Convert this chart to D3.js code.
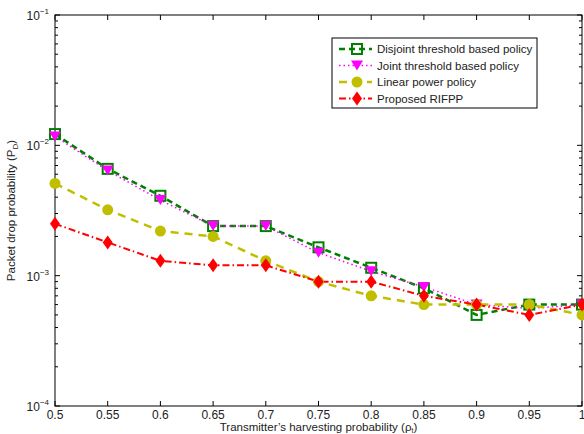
<!DOCTYPE html>
<html>
<head>
<meta charset="utf-8">
<script src="https://cdn.jsdelivr.net/npm/d3@7"></script>
<style>
  body { margin: 0; background: #fff; }
  text { font-family: "Liberation Sans", Arial, sans-serif; fill: #222; }
</style>
</head>
<body>
<div id="chart"></div>
<script>
// harvesting probability on x axis
let rho = [0.5, 0.55, 0.6, 0.65, 0.7, 0.75, 0.8, 0.85, 0.9, 0.95, 1.0];

// packet drop probability
let disjoint = [0.0122, 0.0066, 0.0041, 0.0024, 0.0024, 0.00165, 0.00115, 0.0008, 0.0005, 0.0006, 0.0006];
let joint    = [0.0117, 0.0064, 0.0038, 0.0024, 0.0024, 0.0015, 0.00108, 0.00082, 0.0006, 0.00056, 0.0006];
let linear   = [0.0051, 0.0032, 0.0022, 0.0020, 0.0013, 0.0009, 0.0007, 0.0006, 0.0006, 0.0006, 0.0005];
let rifpp    = [0.0025, 0.0018, 0.0013, 0.0012, 0.0012, 0.0009, 0.0009, 0.0007, 0.0006, 0.0005, 0.0006];

let xTicks = [0.5, 0.55, 0.6, 0.65, 0.7, 0.75, 0.8, 0.85, 0.9, 0.95, 1];
let yDecades = [-4, -3, -2, -1];

let series = [
    {name: "Disjoint threshold based policy", values: disjoint, color: "#008000", dash: "6,4", width: 2.5, marker: "square"},
    {name: "Joint threshold based policy", values: joint, color: "#ff00ff", dash: "1.5,3", width: 1.5, marker: "triangle"},
    {name: "Linear power policy", values: linear, color: "#bfbf00", dash: "8,6", width: 2.5, marker: "circle"},
    {name: "Proposed RIFPP", values: rifpp, color: "#ff0000", dash: "7,3,1.5,3", width: 2, marker: "diamond"}
];

let margin = {top: 15, right: 2, bottom: 28, left: 55};
let width = 584 - margin.left - margin.right,
    height = 434 - margin.top - margin.bottom;

let svg = d3.select("#chart").append("svg")
    .attr("width", 584)
    .attr("height", 434)
    .append("g")
    .attr("transform", "translate(" + margin.left + "," + margin.top + ")");

let x = d3.scaleLinear().domain([0.5, 1]).range([0, width]);
let y = d3.scaleLog().domain([1e-4, 1e-1]).range([height, 0]);

// minor log ticks
let minor = [];
for (let e = -4; e < -1; e++) {
    for (let m = 2; m <= 9; m++) minor.push(m * Math.pow(10, e));
}

let axes = svg.append("g");

axes.append("rect")
    .attr("width", width).attr("height", height)
    .attr("fill", "none").attr("stroke", "#000").attr("stroke-width", 1);

// x ticks (bottom + top, pointing inwards)
axes.selectAll(".xt").data(xTicks).enter().append("line")
    .attr("x1", d => x(d)).attr("x2", d => x(d))
    .attr("y1", height).attr("y2", height - 5)
    .attr("stroke", "#000");
axes.selectAll(".xtt").data(xTicks).enter().append("line")
    .attr("x1", d => x(d)).attr("x2", d => x(d))
    .attr("y1", 0).attr("y2", 5)
    .attr("stroke", "#000");

// y ticks, major + minor, on both sides
let yt = yDecades.map(e => Math.pow(10, e));
[0, width].forEach(function (side) {
    let dir = side === 0 ? 1 : -1;
    axes.selectAll(null).data(yt).enter().append("line")
        .attr("x1", side).attr("x2", side + dir * 5)
        .attr("y1", d => y(d)).attr("y2", d => y(d))
        .attr("stroke", "#000");
    axes.selectAll(null).data(minor).enter().append("line")
        .attr("x1", side).attr("x2", side + dir * 3)
        .attr("y1", d => y(d)).attr("y2", d => y(d))
        .attr("stroke", "#000");
});

// x tick labels
axes.selectAll(".xl").data(xTicks).enter().append("text")
    .attr("x", d => x(d)).attr("y", height + 13)
    .attr("text-anchor", "middle")
    .style("font-size", "12px")
    .text(d => d3.format("")(d));

// y tick labels 10^e
let yl = axes.selectAll(".yl").data(yDecades).enter().append("text")
    .attr("x", -6).attr("y", d => y(Math.pow(10, d)) + 5)
    .attr("text-anchor", "end")
    .style("font-size", "12px");
yl.append("tspan").text("10");
yl.append("tspan").attr("dy", -6).style("font-size", "8px").text(d => "\u2212" + (-d));

// axis titles
let xt = svg.append("text")
    .attr("x", width / 2).attr("y", height + 25)
    .attr("text-anchor", "middle")
    .style("font-size", "11.5px");
xt.append("tspan").text("Transmitter\u2019s harvesting probability (\u03c1");
xt.append("tspan").attr("dy", 2).style("font-size", "7px").text("t");
xt.append("tspan").attr("dy", -2).text(")");

let ytl = svg.append("text")
    .attr("transform", "translate(" + (-40) + "," + (height / 2) + ") rotate(-90)")
    .attr("text-anchor", "middle")
    .style("font-size", "11.5px");
ytl.append("tspan").text("Packet drop probability (P");
ytl.append("tspan").attr("dy", 3).style("font-size", "8px").text("D");
ytl.append("tspan").attr("dy", -3).text(")");

// markers
function drawMarker(g, type, color) {
    if (type === "square") {
        g.append("rect").attr("x", -5).attr("y", -5).attr("width", 10).attr("height", 10)
            .attr("fill", "none").attr("stroke", color).attr("stroke-width", 2);
    } else if (type === "triangle") {
        g.append("path").attr("d", "M-6,-5L6,-5L0,5Z").attr("fill", color);
    } else if (type === "circle") {
        g.append("circle").attr("r", 5.5).attr("fill", color);
    } else if (type === "diamond") {
        g.append("path").attr("d", "M0,-7L5,0L0,7L-5,0Z").attr("fill", color);
    }
}

let line = d3.line()
    .x((d, i) => x(rho[i]))
    .y(d => y(d));

let plot = svg.append("g");

series.forEach(function (s) {
    plot.append("path")
        .datum(s.values)
        .attr("d", line)
        .attr("fill", "none")
        .attr("stroke", s.color)
        .attr("stroke-width", s.width)
        .attr("stroke-dasharray", s.dash);
});

series.forEach(function (s) {
    plot.selectAll(null).data(s.values).enter().append("g")
        .attr("transform", (d, i) => "translate(" + x(rho[i]) + "," + y(d) + ")")
        .each(function () { drawMarker(d3.select(this), s.marker, s.color); });
});

// legend
let lg = svg.append("g").attr("transform", "translate(" + (332 - margin.left) + "," + (38 - margin.top) + ")");
lg.append("rect").attr("width", 205).attr("height", 70)
    .attr("fill", "#fff").attr("stroke", "#000");
series.forEach(function (s, i) {
    let row = lg.append("g").attr("transform", "translate(0," + (11 + i * 16.5) + ")");
    row.append("line").attr("x1", 7).attr("x2", 40).attr("y1", 0).attr("y2", 0)
        .attr("stroke", s.color).attr("stroke-width", s.width).attr("stroke-dasharray", s.dash);
    let m = row.append("g").attr("transform", "translate(25,0)");
    drawMarker(m, s.marker, s.color);
    row.append("text").attr("x", 45).attr("y", 4)
        .style("font-size", "11.5px").text(s.name);
});
</script>
</body>
</html>
